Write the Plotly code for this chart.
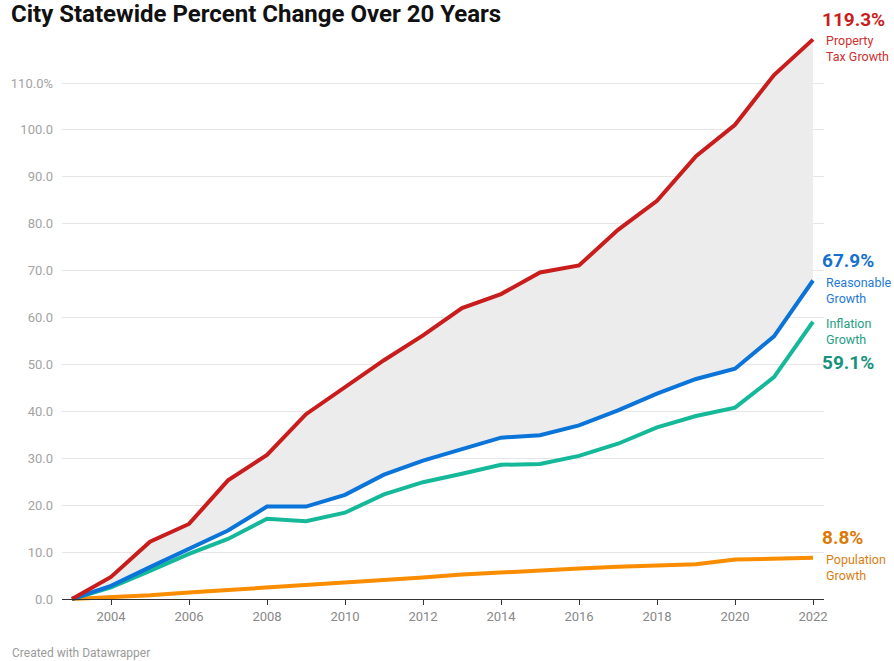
import plotly.graph_objects as go

# Percent change since 2003, by year
years = list(range(2003, 2023))
property_tax = [0.0, 4.7, 12.2, 16.0, 25.3, 30.7, 39.4, 45.2, 50.9, 56.2, 62.0, 65.0,
                69.6, 71.1, 78.7, 84.9, 94.4, 101.1, 111.7, 119.3]
reasonable = [0.0, 2.8, 6.8, 10.8, 14.6, 19.7, 19.7, 22.2, 26.5, 29.5, 31.9, 34.4,
              34.9, 37.0, 40.2, 43.8, 46.9, 49.1, 56.0, 67.9]
inflation = [0.0, 2.5, 6.0, 9.6, 12.8, 17.1, 16.6, 18.4, 22.3, 24.9, 26.7, 28.6,
             28.8, 30.5, 33.1, 36.6, 39.0, 40.8, 47.3, 59.1]
population = [0.0, 0.3, 0.8, 1.4, 1.9, 2.6, 3.1, 3.6, 4.1, 4.6, 5.2, 5.7,
              6.1, 6.5, 6.9, 7.1, 7.4, 8.4, 8.7, 8.8]

y_ticks = list(range(0, 111, 10))
y_tick_text = [f"{v:.1f}" for v in y_ticks[:-1]] + [f"{y_ticks[-1]:.1f}%"]
x_ticks = list(range(2004, 2023, 2))

FONT = "Roboto"
W, H = 894, 661
M_L, M_R, M_T, M_B = 62, 70, 30, 57
PLOT_H = H - M_T - M_B
PX_PER_UNIT = 516 / 110
Y_MIN = -5 / PX_PER_UNIT
Y_MAX = Y_MIN + PLOT_H / PX_PER_UNIT
X_MIN = 2003 - 10 / 39.0
X_MAX = 2022 + 11 / 39.0

series = [
    # name lines, values, line colour, value colour, label colour, value shift, label shift
    ("Population<br>Growth", population, "#fa8c00", "#dc7a08", "#d97d12", 20, -10),
    ("Inflation<br>Growth", inflation, "#15b99a", "#16937a", "#1e9e82", -41, -10),
    ("Reasonable<br>Growth", reasonable, "#0b74d9", "#1571cc", "#1e7ad6", 20, -10),
    ("Property<br>Tax Growth", property_tax, "#c91d1d", "#c91d1d", "#cf3030", 20, -9),
]

fig = go.Figure()

# shaded gap between reasonable growth and property tax growth
fig.add_trace(go.Scatter(x=years, y=reasonable, mode="lines",
                         line=dict(width=0, color="rgba(0,0,0,0)"),
                         hoverinfo="skip", showlegend=False))
fig.add_trace(go.Scatter(x=years, y=property_tax, mode="lines", fill="tonexty",
                         fillcolor="#ececec", line=dict(width=0, color="rgba(0,0,0,0)"),
                         hoverinfo="skip", showlegend=False))

annotations = []
for label, vals, color, vcolor, lcolor, vshift, lshift in series:
    fig.add_trace(go.Scatter(x=years, y=vals, mode="lines",
                             line=dict(width=4, color=color),
                             name=label.replace("<br>", " "), showlegend=False))
    annotations.append(dict(x=years[-1], y=vals[-1], xref="x", yref="y",
                            text=f"<b>{vals[-1]:.1f}%</b>", showarrow=False,
                            xanchor="left", yanchor="middle", xshift=7, yshift=vshift,
                            font=dict(family=FONT, size=19, color=vcolor)))
    annotations.append(dict(x=years[-1], y=vals[-1], xref="x", yref="y",
                            text=label, showarrow=False, align="left",
                            xanchor="left", yanchor="middle", xshift=11, yshift=lshift,
                            font=dict(family=FONT, size=12.5, color=lcolor)))

annotations.append(dict(x=(10 - M_L) / (W - M_L - M_R), y=(H - M_B - 653) / PLOT_H,
                        xref="paper", yref="paper", text="Created with Datawrapper",
                        showarrow=False, xanchor="left", yanchor="middle",
                        font=dict(family=FONT, size=12, color="#9a9a9a")))

fig.update_layout(
    width=W, height=H,
    margin=dict(l=M_L, r=M_R, t=M_T, b=M_B),
    paper_bgcolor="white", plot_bgcolor="white",
    font=dict(family=FONT),
    title=dict(text="<b>City Statewide Percent Change Over 20 Years</b>",
               x=11 / W, xanchor="left", xref="container",
               y=1 - 14 / H, yanchor="middle", yref="container",
               font=dict(family=FONT, size=24, color="#111111")),
    annotations=annotations,
    xaxis=dict(range=[X_MIN, X_MAX], tickvals=x_ticks, ticktext=[str(v) for v in x_ticks],
               showgrid=False, zeroline=False, showline=True, linecolor="#333333",
               linewidth=1, ticks="outside", ticklen=5, tickcolor="#333333",
               anchor="free", position=5 / PLOT_H,
               tickfont=dict(family=FONT, size=13, color="#888888")),
    yaxis=dict(range=[Y_MIN, Y_MAX], tickvals=y_ticks, ticktext=y_tick_text,
               showgrid=True, gridcolor="#e6e6e6", gridwidth=1, zeroline=False,
               ticks="", ticklabelstandoff=8,
               tickfont=dict(family=FONT, size=13, color="#a3a3a3")),
    hovermode=False,
)

fig.write_html("out.html")
